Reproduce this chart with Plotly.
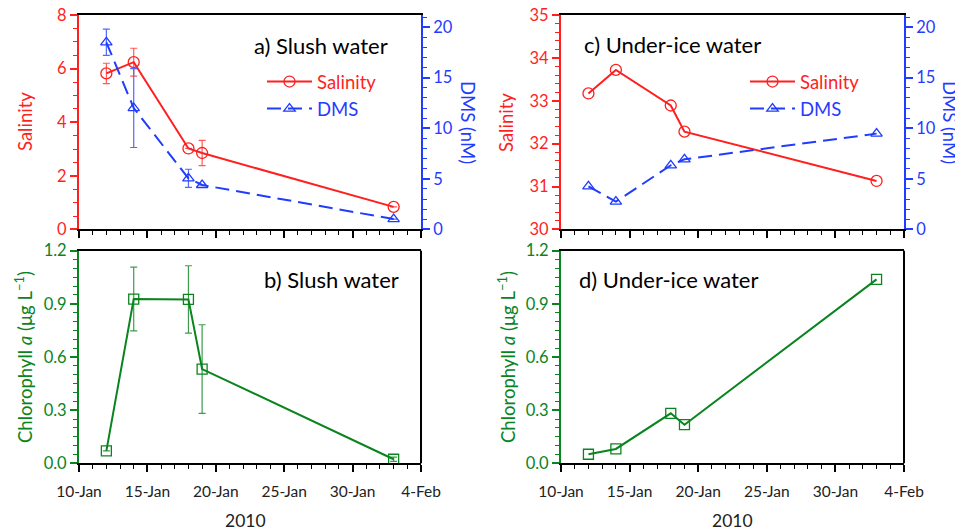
import plotly.graph_objects as go

# ---------------- data ----------------
dates = ["2010-01-12", "2010-01-14", "2010-01-18", "2010-01-19", "2010-02-02"]

slush_salinity = [5.82, 6.24, 3.02, 2.85, 0.84]
slush_salinity_err = [0.38, 0.52, 0.0, 0.47, 0.0]
slush_dms = [18.5, 12.0, 5.05, 4.39, 1.02]
slush_dms_err = [1.3, 3.9, 0.9, 0.0, 0.0]
slush_chl = [0.07, 0.927, 0.925, 0.532, 0.023]
slush_chl_err = [0.0, 0.18, 0.19, 0.25, 0.012]

ice_salinity = [33.17, 33.72, 32.89, 32.28, 31.13]
ice_dms = [4.25, 2.74, 6.34, 6.93, 9.47]
ice_chl = [0.051, 0.081, 0.282, 0.218, 1.038]

x_range = ["2010-01-10", "2010-02-04"]

# ---------------- style ----------------
RED = "#ff1f1f"
BLUE = "#1f3cff"
GREEN = "#0a841e"
RED_E = "#ff5a5a"
BLUE_E = "#5068ff"
GREEN_E = "#3c9c4c"
FONT = "Lato, 'Open Sans', sans-serif"
W, H = 963, 531
OFF = 8  # page body margin offset

def px_x(p):
    return (p - OFF) / W

def px_y(p):
    return 1 - (p - OFF) / H

XA = [px_x(79), px_x(421)]
XC = [px_x(561), px_x(904)]
YT = [px_y(229.4), px_y(15)]
YB = [px_y(463.3), px_y(250.7)]

fig = go.Figure()

# panel a
fig.add_trace(go.Scatter(
    x=dates, y=slush_salinity, name="<span style='color:%s'>Salinity</span>" % RED,
    mode="lines+markers", line=dict(color=RED, width=2),
    marker=dict(symbol="circle-open", size=11, color=RED, line=dict(width=1.3)),
    error_y=dict(type="data", array=slush_salinity_err, color=RED_E, thickness=1.2, width=3.5),
    xaxis="x", yaxis="y", legend="legend"))
fig.add_trace(go.Scatter(
    x=dates, y=slush_dms, name="<span style='color:%s'>DMS</span>" % BLUE,
    mode="lines+markers", line=dict(color=BLUE, width=2, dash="14px,7px"),
    marker=dict(symbol="triangle-up-open", size=10, color=BLUE, line=dict(width=1.3)),
    error_y=dict(type="data", array=slush_dms_err, color=BLUE_E, thickness=1.2, width=3.5),
    xaxis="x", yaxis="y2", legend="legend"))

# panel b
fig.add_trace(go.Scatter(
    x=dates, y=slush_chl, mode="lines+markers", showlegend=False,
    line=dict(color=GREEN, width=2),
    marker=dict(symbol="square-open", size=10, color=GREEN, line=dict(width=1.3)),
    error_y=dict(type="data", array=slush_chl_err, color=GREEN_E, thickness=1.2, width=3.5),
    xaxis="x2", yaxis="y3"))

# panel c
fig.add_trace(go.Scatter(
    x=dates, y=ice_salinity, name="<span style='color:%s'>Salinity</span>" % RED,
    mode="lines+markers", line=dict(color=RED, width=2),
    marker=dict(symbol="circle-open", size=11, color=RED, line=dict(width=1.3)),
    xaxis="x3", yaxis="y4", legend="legend2"))
fig.add_trace(go.Scatter(
    x=dates, y=ice_dms, name="<span style='color:%s'>DMS</span>" % BLUE,
    mode="lines+markers", line=dict(color=BLUE, width=2, dash="14px,7px"),
    marker=dict(symbol="triangle-up-open", size=10, color=BLUE, line=dict(width=1.3)),
    xaxis="x3", yaxis="y5", legend="legend2"))

# panel d
fig.add_trace(go.Scatter(
    x=dates, y=ice_chl, mode="lines+markers", showlegend=False,
    line=dict(color=GREEN, width=2),
    marker=dict(symbol="square-open", size=10, color=GREEN, line=dict(width=1.3)),
    xaxis="x4", yaxis="y6"))


def xaxis(domain, anchor, labels):
    return dict(
        domain=domain, anchor=anchor, type="date", range=x_range,
        tick0="2010-01-10", dtick=5 * 86400000, tickformat="%-d-%b",
        showticklabels=labels, ticks="outside", ticklen=7, tickwidth=1.5,
        tickcolor="black", showline=True, linecolor="black", linewidth=2,
        mirror=True, showgrid=False, zeroline=False, automargin=False,
        tickfont=dict(family=FONT, size=15.5, color="#222"),
        ticklabelstandoff=6, ticklabeloverflow="allow",
        minor=dict(dtick=86400000, tick0="2010-01-10", ticks="outside",
                   ticklen=4, tickcolor="black", tickwidth=1.2, showgrid=False),
    )


def yaxis(domain, anchor, rng, dtick, mdtick, color, fmt=None, side="left", overlay=None):
    d = dict(
        domain=domain, anchor=anchor, range=rng, dtick=dtick, tick0=0,
        ticks="outside", ticklen=7, tickwidth=1.5, tickcolor=color,
        showline=True, linecolor=color, linewidth=2, showgrid=False,
        zeroline=False, side=side, automargin=False, ticklabeloverflow="allow",
        tickfont=dict(family=FONT, size=16.5, color=color),
        minor=dict(dtick=mdtick, ticks="outside", ticklen=4, tickcolor=color,
                   tickwidth=1.2, showgrid=False),
    )
    if fmt:
        d["tickformat"] = fmt
    if overlay:
        d["overlaying"] = overlay
    return d


fig.update_layout(
    width=W, height=H,
    margin=dict(l=0, r=0, t=0, b=0, autoexpand=False),
    paper_bgcolor="white", plot_bgcolor="white",
    font=dict(family=FONT),
    xaxis=xaxis(XA, "y", False),
    yaxis=yaxis(YT, "x", [0, 8], 2, 0.5, RED),
    yaxis2=yaxis(YT, "x", [0, 21.2], 5, 1, BLUE, side="right", overlay="y"),
    xaxis2=xaxis(XA, "y3", True),
    yaxis3=yaxis(YB, "x2", [0, 1.2], 0.3, 0.05, GREEN, fmt=".1f"),
    xaxis3=xaxis(XC, "y4", False),
    yaxis4=yaxis(YT, "x3", [30, 35], 1, 0.2, RED),
    yaxis5=yaxis(YT, "x3", [0, 21.2], 5, 1, BLUE, side="right", overlay="y4"),
    xaxis4=xaxis(XC, "y6", True),
    yaxis6=yaxis(YB, "x4", [0, 1.2], 0.3, 0.05, GREEN, fmt=".1f"),
    legend=dict(x=px_x(262), y=px_y(63), xanchor="left", yanchor="top",
                bgcolor="rgba(0,0,0,0)", font=dict(family=FONT, size=18.5),
                tracegroupgap=0, itemwidth=45),
    legend2=dict(x=px_x(745), y=px_y(63), xanchor="left", yanchor="top",
                 bgcolor="rgba(0,0,0,0)", font=dict(family=FONT, size=18.5),
                 tracegroupgap=0, itemwidth=45),
    showlegend=True,
)

# right borders of lower panels
for xd in (XA, XC):
    fig.add_shape(type="line", xref="paper", yref="paper", x0=xd[1], x1=xd[1],
                  y0=YB[0], y1=YB[1], line=dict(color="black", width=2))

ann = []
def text(x, y, s, color="black", size=18, angle=0, xanchor="center"):
    ann.append(dict(x=px_x(x), y=px_y(y), xref="paper", yref="paper", text=s,
                    showarrow=False, textangle=angle, xanchor=xanchor, yanchor="middle",
                    font=dict(family=FONT, size=size, color=color)))

text(25, 122, "Salinity", RED, 18.5, -90)
text(468, 122, "DMS (nM)", BLUE, 18.5, 90)
text(506, 122, "Salinity", RED, 18.5, -90)
text(950, 122, "DMS (nM)", BLUE, 18.5, 90)
text(23, 357, "Chlorophyll <i>a</i> (μg L<sup>−1</sup>)", GREEN, 18.5, -90)
text(506, 357, "Chlorophyll <i>a</i> (μg L<sup>−1</sup>)", GREEN, 18.5, -90)
text(252, 45, "a) Slush water", "black", 22, 0, "left")
text(582, 44, "c) Under-ice water", "black", 22, 0, "left")
text(262, 279, "b) Slush water", "black", 22, 0, "left")
text(577, 279, "d) Under-ice water", "black", 22, 0, "left")
text(245, 520, "2010", "#222", 17.5)
text(732, 520, "2010", "#222", 17.5)
fig.update_layout(annotations=ann)

fig.write_html("out.html")
